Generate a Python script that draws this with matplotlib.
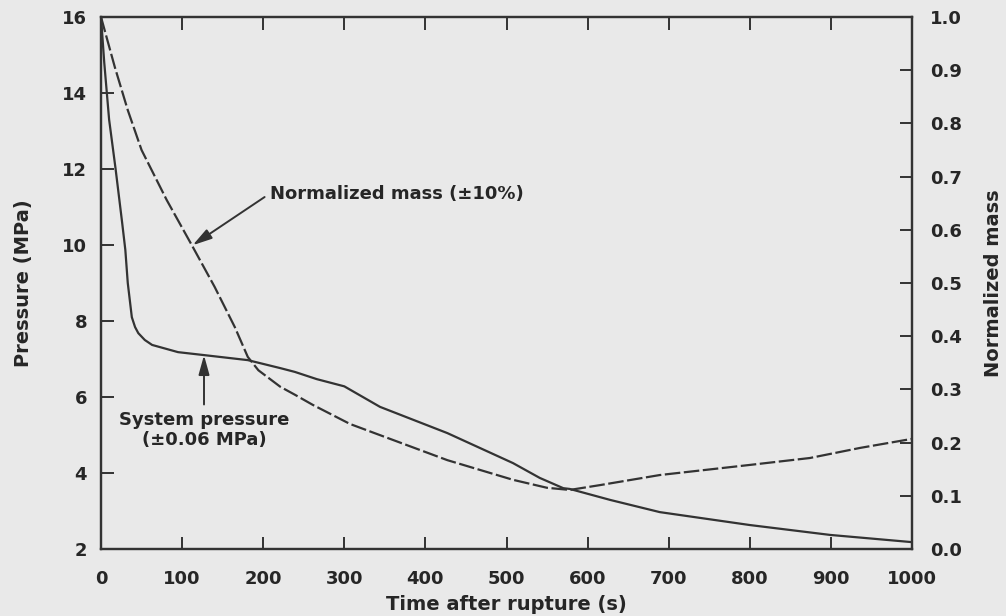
import matplotlib
matplotlib.use("Agg")
import matplotlib.pyplot as plt

# System pressure after rupture (MPa)
t_pressure = [0, 4, 10, 18, 26, 30, 33, 38, 42, 46, 54, 63, 95, 128, 181, 221,
              239, 266, 300, 344, 427, 508, 541, 570, 578, 628, 689, 800, 899,
              1000]
pressure = [16.0, 14.8, 13.3, 12.0, 10.6, 9.87, 9.0, 8.1, 7.84, 7.68, 7.5, 7.37,
            7.18, 7.1, 6.97, 6.76, 6.66, 6.47, 6.28, 5.74, 5.05, 4.26, 3.87, 3.6,
            3.58, 3.29, 2.97, 2.63, 2.37, 2.18]

# Normalized system mass
t_mass = [0, 17, 33, 50, 81, 112, 140, 165, 181, 194, 221, 239, 261, 307, 344,
          427, 508, 550, 578, 615, 689, 800, 874, 936, 1000]
mass = [1.0, 0.906, 0.825, 0.75, 0.656, 0.571, 0.493, 0.417, 0.361, 0.336, 0.305,
        0.29, 0.271, 0.235, 0.214, 0.167, 0.13, 0.115, 0.111, 0.12, 0.139, 0.158,
        0.171, 0.19, 0.207]

x_ticks = [0, 100, 200, 300, 400, 500, 600, 700, 800, 900, 1000]
p_ticks = [2, 4, 6, 8, 10, 12, 14, 16]
m_ticks = [0.0, 0.1, 0.2, 0.3, 0.4, 0.5, 0.6, 0.7, 0.8, 0.9, 1.0]

bg = "#e9e9e9"
ink = "#333333"
txt = "#262626"
font = dict(family="DejaVu Sans", weight="bold", color=txt)
fs = 13
fs_label = 14

fig = plt.figure(figsize=(10.06, 6.16), dpi=100, facecolor=bg)
ax = fig.add_axes([0.1004, 0.1088, 0.8062, 0.8636], facecolor=bg)
ax2 = ax.twinx()

ax.plot(t_pressure, pressure, color=ink, lw=1.6, solid_joinstyle="round")
ax2.plot(t_mass, mass, color=ink, lw=1.6, dashes=(7, 1.6))

ax.set_xlim(0, 1000)
ax.set_ylim(2, 16)
ax2.set_ylim(0, 1.0)

ax.set_xticks(x_ticks)
ax.set_xticklabels([str(v) for v in x_ticks], fontdict=font, fontsize=fs)
ax.set_yticks(p_ticks)
ax.set_yticklabels([str(v) for v in p_ticks], fontdict=font, fontsize=fs)
ax2.set_yticks(m_ticks)
ax2.set_yticklabels([f"{v:.1f}" for v in m_ticks], fontdict=font, fontsize=fs)

ax.tick_params(axis="x", direction="in", length=9, width=1.4, color=ink,
               top=True, pad=15)
ax.tick_params(axis="y", direction="in", length=9, width=1.4, color=ink, pad=10)
ax2.tick_params(axis="y", direction="in", length=9, width=1.4, color=ink, pad=13)

for a in (ax, ax2):
    for s in a.spines.values():
        s.set_color(ink)
        s.set_linewidth(1.6)

ax.set_xlabel("Time after rupture (s)", fontdict=font, fontsize=fs_label,
              labelpad=5)
ax.set_ylabel("Pressure (MPa)", fontdict=font, fontsize=fs_label, labelpad=21)
ax2.set_ylabel("Normalized mass", fontdict=font, fontsize=fs_label, labelpad=16,
               rotation=90)

arrow = dict(arrowstyle="-|>,head_length=0.9,head_width=0.25", color=ink,
             lw=1.4, shrinkA=2, shrinkB=0, relpos=(0, 0.5))

ax2.annotate("Normalized mass (\u00b110%)", xy=(113, 0.571), xytext=(208, 0.668),
             ha="left", va="center", fontsize=fs, arrowprops=arrow, **font)

arrow_up = dict(arrowstyle="-|>,head_length=0.9,head_width=0.25", color=ink,
                lw=1.4, shrinkA=3, shrinkB=0)
ax.annotate("System pressure\n(\u00b10.06 MPa)", xy=(127, 7.1), xytext=(127, 5.62),
            ha="center", va="top", fontsize=fs, linespacing=1.1,
            arrowprops=arrow_up, **font)

fig.savefig("out.png", dpi=100, facecolor=bg)
